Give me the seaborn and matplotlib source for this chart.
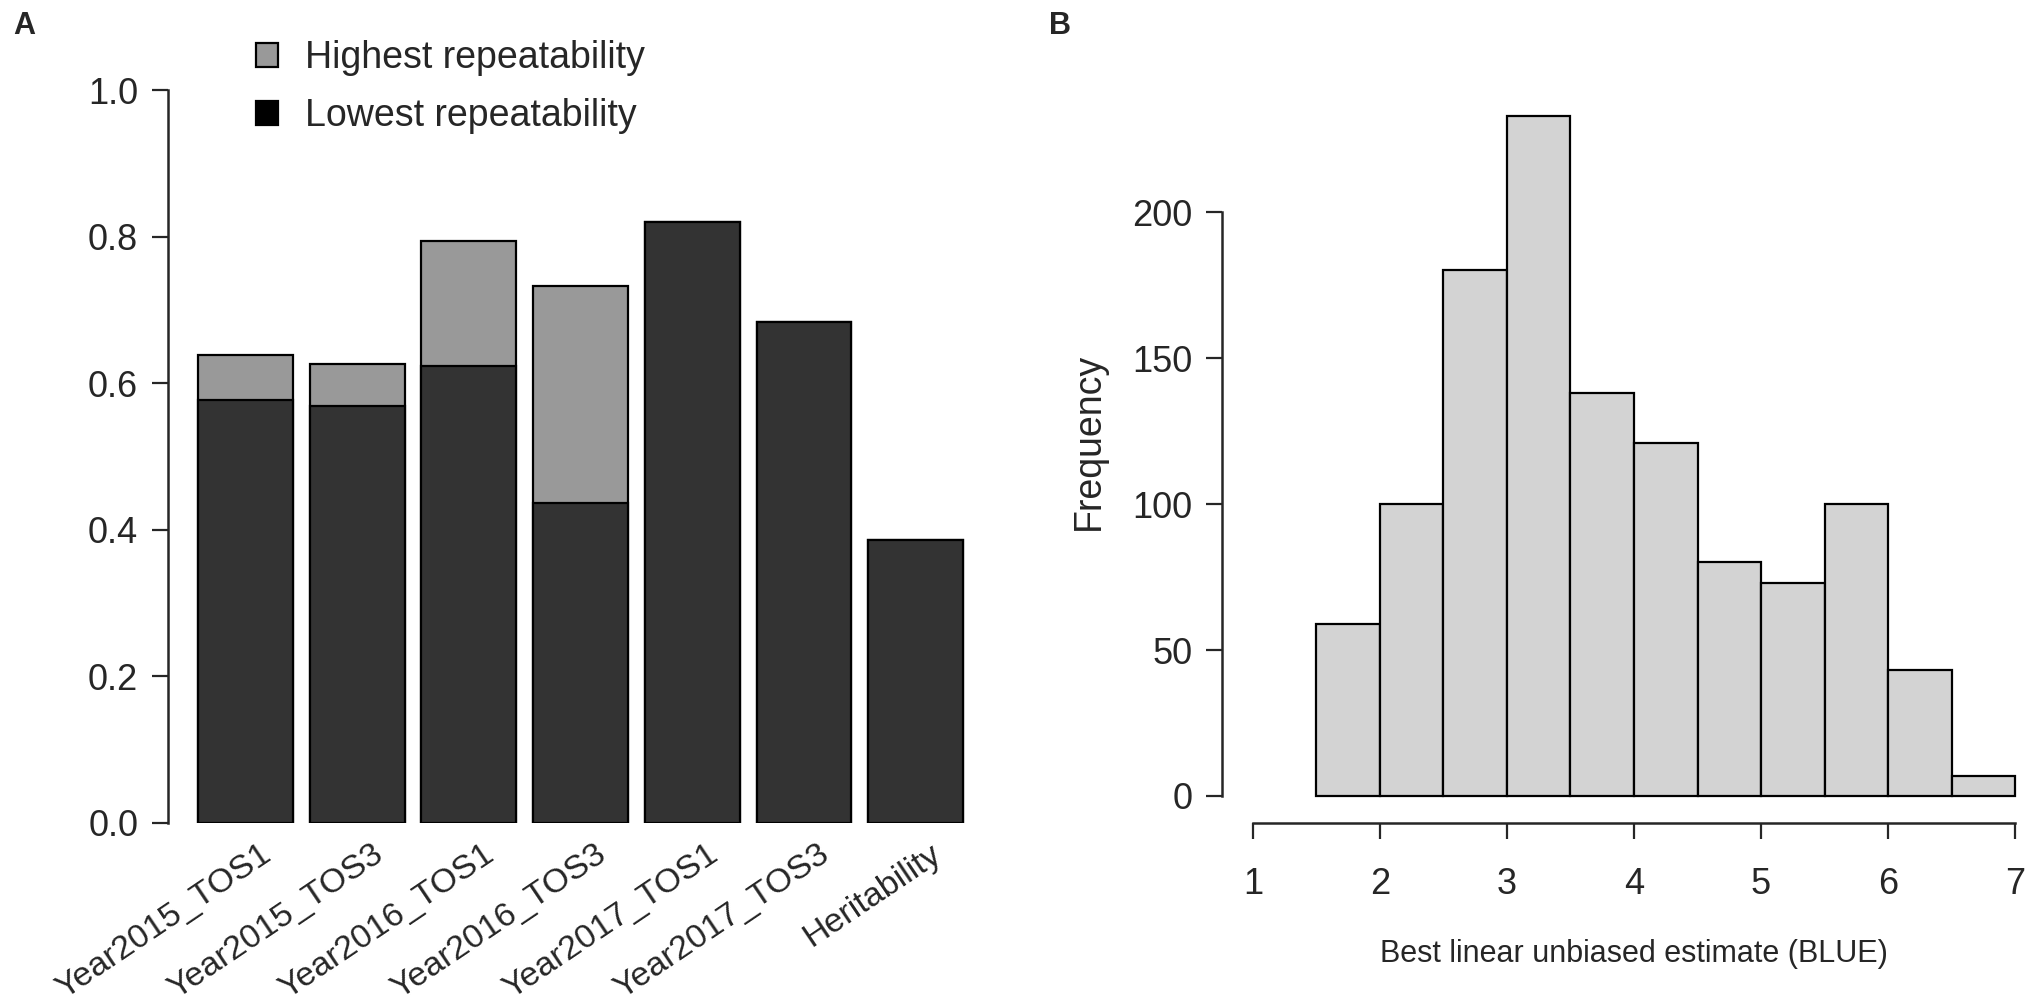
import numpy as np
import pandas as pd
import matplotlib
matplotlib.use("Agg")
import matplotlib.pyplot as plt
import seaborn as sns
from matplotlib.patches import Patch
from matplotlib.transforms import ScaledTranslation

# Panel A: repeatability per trial and heritability
trials = ["Year2015_TOS1", "Year2015_TOS3", "Year2016_TOS1", "Year2016_TOS3",
          "Year2017_TOS1", "Year2017_TOS3", "Heritability"]
highest_rep = [0.638, 0.626, 0.794, 0.733, 0.820, 0.683, 0.386]
lowest_rep = [0.577, 0.569, 0.624, 0.436, 0.820, 0.683, 0.386]

# Panel B: BLUE histogram (bin breaks and counts)
bin_edges = [1.5, 2.0, 2.5, 3.0, 3.5, 4.0, 4.5, 5.0, 5.5, 6.0, 6.5, 7.0]
bin_counts = [59, 100, 180, 233, 138, 121, 80, 73, 100, 43, 7]

sns.set_style("ticks")
plt.rcParams["font.family"] = ["Liberation Sans", "DejaVu Sans"]

W, H = 2033, 1008
fig = plt.figure(figsize=(W / 100, H / 100), dpi=100)


def px_axes(left, right, top, bottom):
    return fig.add_axes([left / W, 1 - bottom / H, (right - left) / W, (bottom - top) / H])


# ---------- panel A ----------
axA = px_axes(168, 980, 90, 823)
df_a = pd.DataFrame({"trial": trials, "high": highest_rep, "low": lowest_rep})
sns.barplot(data=df_a, x="trial", y="high", color="#999999", saturation=1,
            edgecolor="black", linewidth=1.6, width=0.85, errorbar=None, ax=axA)
sns.barplot(data=df_a, x="trial", y="low", color="#333333", saturation=1,
            edgecolor="black", linewidth=1.6, width=0.85, errorbar=None, ax=axA)
axA.set_xlim(-0.694, 6.576)
axA.set_ylim(0, 1.0)
axA.set_yticks([0.0, 0.2, 0.4, 0.6, 0.8, 1.0])
axA.set_yticklabels(["0.0", "0.2", "0.4", "0.6", "0.8", "1.0"])
axA.set_xlabel("")
axA.set_ylabel("")
for s in ["top", "right", "bottom"]:
    axA.spines[s].set_visible(False)
axA.spines["left"].set_linewidth(1.8)
axA.tick_params(axis="y", length=11.5, width=1.6, pad=10, labelsize=26)
axA.tick_params(axis="x", length=0, pad=11, labelsize=24.5)
for lab in axA.get_xticklabels():
    lab.set_rotation(34)
    lab.set_ha("right")
    lab.set_va("top")
    lab.set_rotation_mode("anchor")
    lab.set_transform(lab.get_transform() + ScaledTranslation(0.14, 0, fig.dpi_scale_trans))

handles = [Patch(facecolor="#999999", edgecolor="black", linewidth=1.6),
           Patch(facecolor="black", edgecolor="black", linewidth=1.6)]
fig.legend(handles, ["Highest repeatability", "Lowest repeatability"],
           loc="upper left", bbox_to_anchor=(256 / W, 1 - 40 / H), frameon=False,
           borderpad=0, borderaxespad=0, handlelength=0.6, handleheight=0.6,
           handletextpad=0.7, labelspacing=0.6, fontsize=27)

# ---------- panel B ----------
axB = px_axes(1222, 2030, 90, 823)
sns.histplot(x=bin_edges[:-1], weights=bin_counts, bins=bin_edges,
             color="#D3D3D3", edgecolor="black", linewidth=1.6, alpha=1, ax=axB)
axB.set_xlim(0.756, 7.118)
axB.set_ylim(-9.25, 241.8)
axB.set_xticks([1, 2, 3, 4, 5, 6, 7])
axB.set_yticks([0, 50, 100, 150, 200])
for s in ["top", "right"]:
    axB.spines[s].set_visible(False)
axB.spines["left"].set_bounds(0, 200)
axB.spines["bottom"].set_bounds(1, 7)
axB.spines["left"].set_linewidth(1.8)
axB.spines["bottom"].set_linewidth(1.8)
axB.tick_params(axis="y", length=11.5, width=1.6, pad=10, labelsize=26)
axB.tick_params(axis="x", length=11.5, width=1.6, pad=20, labelsize=26)
axB.set_xlabel("Best linear unbiased estimate (BLUE)", fontsize=22)
axB.set_ylabel("Frequency", fontsize=27)
axB.xaxis.set_label_coords(0.51, -0.158)
axB.yaxis.set_label_coords(-0.142, 0.52)

fig.text(24 / W, 1 - 26 / H, "A", fontsize=22, fontweight="bold", ha="center", va="center")
fig.text(1060 / W, 1 - 26 / H, "B", fontsize=22, fontweight="bold", ha="center", va="center")

fig.savefig("out.png", dpi=100, facecolor="white")
